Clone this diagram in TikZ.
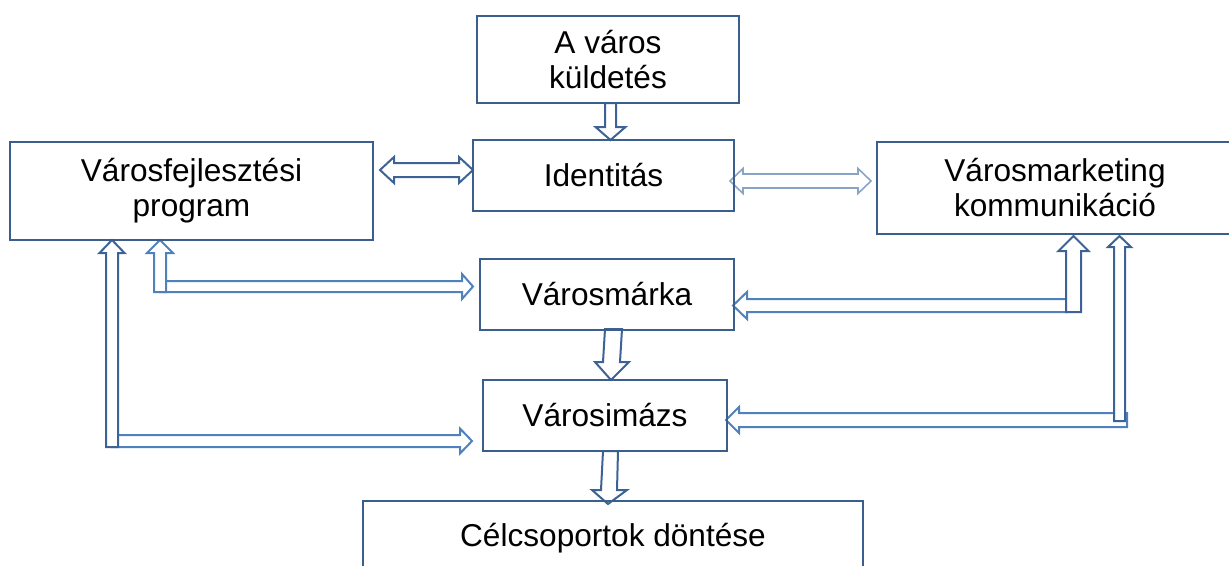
\documentclass[tikz,border=0pt]{standalone}
\usepackage{fontspec}
\setmainfont{Liberation Sans}
\definecolor{boxc}{HTML}{3B5E8C}
\definecolor{arrd}{HTML}{3D6396}
\definecolor{arrl}{HTML}{4F81BD}
\definecolor{arrg}{HTML}{8AA4C8}
% style, x, y0, ytip, halfshaft, halfhead, headlen
\newcommand\downblk[7]{\draw[#1] ({#2-#5},#3) -- ({#2-#5},{#4-#7}) -- ({#2-#6},{#4-#7}) -- (#2,#4) -- ({#2+#6},{#4-#7}) -- ({#2+#5},{#4-#7}) -- ({#2+#5},#3) -- cycle;}
\newcommand\upblk[7]{\draw[#1] ({#2-#5},#3) -- ({#2-#5},{#4+#7}) -- ({#2-#6},{#4+#7}) -- (#2,#4) -- ({#2+#6},{#4+#7}) -- ({#2+#5},{#4+#7}) -- ({#2+#5},#3) -- cycle;}
% style, y, x0, xtip, halfshaft, halfhead, headlen
\newcommand\rightblk[7]{\draw[#1] (#3,{#2-#5}) -- ({#4-#7},{#2-#5}) -- ({#4-#7},{#2-#6}) -- (#4,#2) -- ({#4-#7},{#2+#6}) -- ({#4-#7},{#2+#5}) -- (#3,{#2+#5}) -- cycle;}
\newcommand\leftblk[7]{\draw[#1] (#3,{#2-#5}) -- ({#4+#7},{#2-#5}) -- ({#4+#7},{#2-#6}) -- (#4,#2) -- ({#4+#7},{#2+#6}) -- ({#4+#7},{#2+#5}) -- (#3,{#2+#5}) -- cycle;}
% style, y, xl, xr, halfshaft, halfhead, headlen
\newcommand\dblh[7]{\draw[#1] (#3,#2) -- ({#3+#7},{#2-#6}) -- ({#3+#7},{#2-#5}) -- ({#4-#7},{#2-#5}) -- ({#4-#7},{#2-#6}) -- (#4,#2) -- ({#4-#7},{#2+#6}) -- ({#4-#7},{#2+#5}) -- ({#3+#7},{#2+#5}) -- ({#3+#7},{#2+#6}) -- cycle;}
\begin{document}
\begin{tikzpicture}[x=1pt,y=-1pt,
  blk/.style={draw=boxc, line width=2.6pt, text=black, align=center, inner sep=0pt,
    font=\fontsize{31.6}{35}\selectfont},
  darr/.style={draw=arrd, fill=white, line width=2pt, line join=miter},
  larr/.style={draw=arrl, fill=white, line width=2pt, line join=miter},
  garr/.style={draw=arrg, fill=white, line width=1.6pt, line join=miter}]
\useasboundingbox (0,0) rectangle (1229,565);
\clip (0,0) rectangle (1229,565);
% arrows
\downblk{darr}{610.5}{103}{140}{5.5}{15}{13}
\dblh{darr}{170}{380}{473}{7}{13}{14}
\dblh{garr}{181}{730}{871}{7}{12.5}{13}
\draw[darr] (605,329) -- (603,362) -- (595,362) -- (611,380) -- (629,362) -- (620,362) -- (622,329) -- cycle;
\draw[darr] (603,451) -- (601,490) -- (592,490) -- (608,504) -- (627,490) -- (617,490) -- (618,451) -- cycle;
% left side
\rightblk{larr}{441}{112}{472}{6}{12.5}{12}
\upblk{darr}{112}{447}{240}{6}{12.5}{13}
\rightblk{larr}{286.5}{160}{473}{5.5}{12.5}{11}
\upblk{larr}{160}{292}{240}{6}{13}{13}
% right side
\leftblk{larr}{305.5}{1066}{733}{6.5}{13.5}{14}
\upblk{darr}{1073.5}{312}{236}{7.5}{15}{15}
\leftblk{larr}{420}{1127}{726}{7}{13}{13}
\upblk{darr}{1119.5}{421}{236}{5.5}{11.5}{11}
% boxes
\node[blk, minimum width=262pt, minimum height=87pt] (kuld) at (608,59.5) {A város\\küldetés};
\node[blk, minimum width=261pt, minimum height=71pt] (ident) at (603.5,175.5) {Identitás};
\node[blk, minimum width=363pt, minimum height=98pt] (fejl) at (191.5,191) {Városfejlesztési\\program};
\node[blk, minimum width=356pt, minimum height=92pt] (mark) at (1055,188) {Városmarketing\\kommunikáció};
\node[blk, minimum width=254pt, minimum height=71pt] (marka) at (607,294.5) {Városmárka};
\node[blk, minimum width=244pt, minimum height=71pt] (imazs) at (605,415.5) {Városimázs};
\node[blk, minimum width=500pt, minimum height=74pt] (cel) at (613,538) {Célcsoportok döntése};
\end{tikzpicture}
\end{document}
